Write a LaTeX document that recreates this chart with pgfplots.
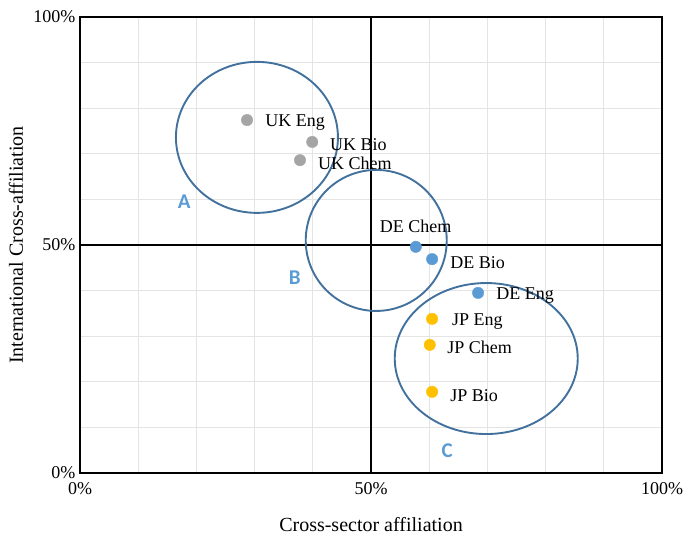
\documentclass[border=0pt]{standalone}
\usepackage{fontspec}
\setmainfont{Liberation Serif}
\newfontfamily\carl{Carlito}
\usepackage{pgfplots}
\pgfplotsset{compat=1.18}
\definecolor{cgray}{HTML}{A5A5A5}
\definecolor{cblue}{HTML}{5B9BD5}
\definecolor{cgold}{HTML}{FFC000}
\definecolor{cell}{HTML}{41719C}
\definecolor{cgrid}{HTML}{E4E4E4}
\begin{document}
\begin{tikzpicture}[x=1pt,y=1pt]
\useasboundingbox (0,0) rectangle (685,537);
\begin{axis}[at={(80pt,64pt)}, anchor=south west,
  width=582pt, height=456pt, scale only axis,
  xmin=0, xmax=100, ymin=0, ymax=100,
  xtick={0,10,...,100}, ytick={0,10,...,100},
  xticklabels={0\%,,,,,50\%,,,,,100\%},
  yticklabels={0\%,,,,,50\%,,,,,100\%},
  major tick length=0pt,
  grid=major, major grid style={cgrid, line width=1pt},
  axis line style={black, line width=1.3pt},
  ticklabel style={font=\fontsize{18}{20}\selectfont},
  xticklabel style={yshift=-6pt},
  yticklabel style={xshift=-1pt},
  clip=false
]
\draw[black, line width=1.3pt] (axis cs:50,0) -- (axis cs:50,100);
\draw[black, line width=1.3pt] (axis cs:0,50) -- (axis cs:100,50);

\addplot[only marks, mark=*, mark size=5.7pt, cgray, mark options={draw=cgray, fill=cgray}] coordinates {
(28.7,77.4) (39.9,72.6) (37.8,68.6)};
\addplot[only marks, mark=*, mark size=5.7pt, cblue, mark options={draw=cblue, fill=cblue}] coordinates {
(57.7,49.6) (60.5,46.9) (68.4,39.5)};
\addplot[only marks, mark=*, mark size=5.7pt, cgold, mark options={draw=cgold, fill=cgold}] coordinates {
(60.5,33.8) (60.1,28.1) (60.5,17.8)};

\draw[cell, line width=1.9pt] (axis cs:30.4,73.6) ellipse [x radius=81pt, y radius=75.5pt];
\draw[cell, line width=1.9pt] (axis cs:50.9,51.0) ellipse [x radius=70.5pt, y radius=70.5pt];
\draw[cell, line width=1.9pt] (axis cs:69.8,25.1) ellipse [x radius=91.5pt, y radius=75.5pt];

\begin{scope}[every node/.style={anchor=west, inner sep=0pt, yshift=-2pt, font=\fontsize{18}{20}\selectfont}]
\node at (axis cs:31.8,77.2) {UK Eng};
\node at (axis cs:42.96,72.4) {UK Bio};
\node at (axis cs:40.9,68.4) {UK Chem};
\node at (axis cs:51.5,54.6) {DE Chem};
\node at (axis cs:63.6,46.5) {DE Bio};
\node at (axis cs:71.5,39.3) {DE Eng};
\node at (axis cs:63.9,33.6) {JP Eng};
\node at (axis cs:63.1,27.9) {JP Chem};
\node at (axis cs:63.6,17.5) {JP Bio};
\end{scope}
\begin{scope}[every node/.style={inner sep=0pt, text=cblue, font=\carl\bfseries\fontsize{21}{22}\selectfont}]
\node at (axis cs:17.9,59.6) {A};
\node at (axis cs:36.9,42.8) {B};
\node at (axis cs:63.1,5.0) {C};
\end{scope}
\end{axis}
\node[font=\fontsize{20}{22}\selectfont] at (371,12) {Cross-sector affiliation};
\node[font=\fontsize{20}{22}\selectfont, rotate=90] at (16,292) {International Cross-affiliation};
\end{tikzpicture}
\end{document}
